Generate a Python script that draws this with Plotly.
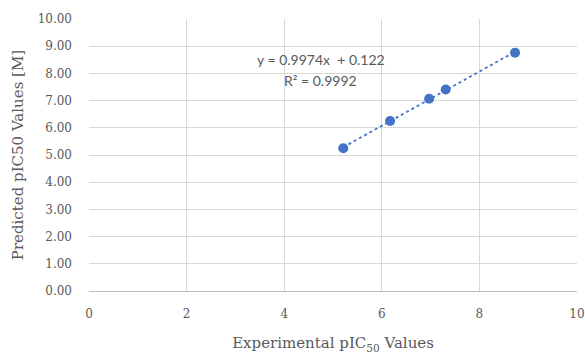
import numpy as np
import plotly.graph_objects as go

experimental = [5.21, 6.17, 6.97, 7.31, 8.73]
predicted = [5.25, 6.25, 7.07, 7.41, 8.76]
eq_text = "y = 0.9974x  + 0.122"
r2_text = "R² = 0.9992"
x_ticks = [0, 2, 4, 6, 8, 10]
y_ticks = [0, 1, 2, 3, 4, 5, 6, 7, 8, 9, 10]

blue = "#4472C4"
grid = "#d9d9d9"
tickc = "#595959"
serif = "DejaVu Serif"
sans = "Lato"

slope, intercept = np.polyfit(experimental, predicted, 1)
lx = [min(experimental), max(experimental)]
ly = [slope * v + intercept for v in lx]

fig = go.Figure()
fig.add_trace(go.Scatter(x=lx, y=ly, mode="lines",
                         line=dict(color=blue, width=1.8, dash="dot"),
                         hoverinfo="skip", showlegend=False))
fig.add_trace(go.Scatter(x=experimental, y=predicted, mode="markers",
                         marker=dict(color=blue, size=10),
                         showlegend=False))

fig.add_annotation(x=4.75, y=8.52, text=eq_text, showarrow=False,
                   font=dict(family=sans, size=14, color=tickc),
                   xanchor="center", yanchor="middle")
fig.add_annotation(x=4.75, y=7.75, text=r2_text, showarrow=False,
                   font=dict(family=sans, size=14, color=tickc),
                   xanchor="center", yanchor="middle")

fig.update_layout(
    width=585, height=356,
    margin=dict(l=89, r=8, t=19, b=65, autoexpand=False),
    paper_bgcolor="white", plot_bgcolor="white",
    xaxis=dict(range=[0, 10], tickvals=x_ticks, ticktext=[str(v) for v in x_ticks],
               showgrid=True, gridcolor=grid, gridwidth=1, automargin=False,
               zeroline=False, showline=True, linecolor="#bfbfbf", linewidth=1,
               ticks="", ticklabelstandoff=12,
               tickfont=dict(family=serif, size=12, color=tickc),
               title=dict(text="Experimental pIC<sub>50</sub> Values",
                          font=dict(family=serif, size=15, color=tickc), standoff=17)),
    yaxis=dict(range=[0, 10], tickvals=y_ticks, ticktext=[f"{v:.2f}" for v in y_ticks],
               showgrid=True, gridcolor=grid, gridwidth=1, automargin=False,
               zeroline=False, showline=False, ticks="", ticklabelstandoff=16,
               tickfont=dict(family=serif, size=12, color=tickc),
               title=dict(text="Predicted pIC50 Values [M]",
                          font=dict(family=serif, size=15, color=tickc), standoff=10)),
)

fig.write_html("out.html")
